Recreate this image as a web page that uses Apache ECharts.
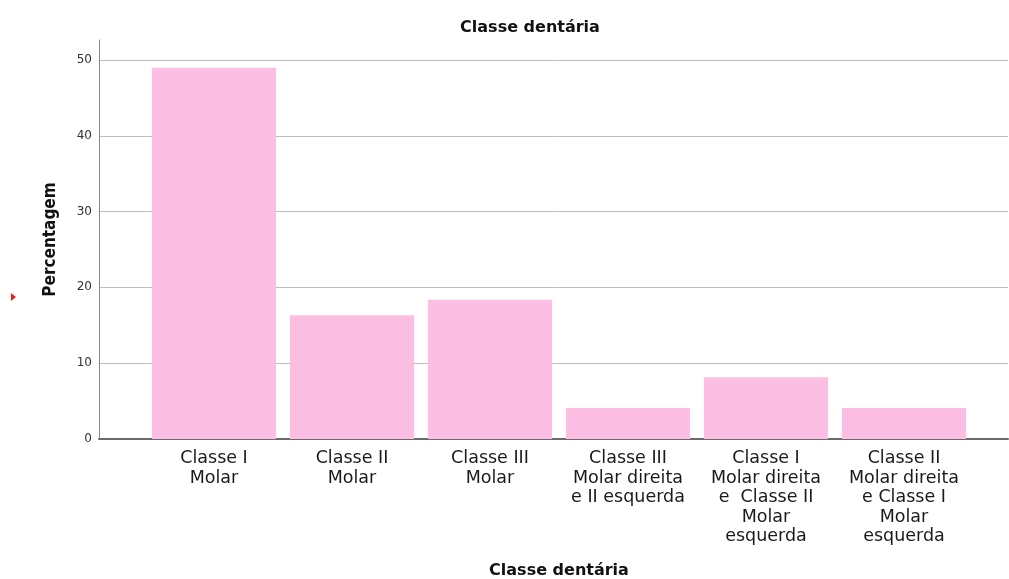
<!DOCTYPE html>
<html>
<head>
<meta charset="utf-8">
<script src="https://cdn.jsdelivr.net/npm/echarts@6/dist/echarts.min.js"></script>
<style>
  html, body { margin: 0; padding: 0; background: #fff; }
  #chart { width: 1009px; height: 579px; }
</style>
</head>
<body>
<div id="chart"></div>
<script>
const categories = [
  'Classe I\nMolar',
  'Classe II\nMolar',
  'Classe III\nMolar',
  'Classe III\nMolar direita\ne II esquerda',
  'Classe I\nMolar direita\ne  Classe II\nMolar\nesquerda',
  'Classe II\nMolar direita\ne Classe I\nMolar\nesquerda'
]
const percentages = [48.98, 16.33, 18.37, 4.08, 8.16, 4.08]
const yTicks = [0, 10, 20, 30, 40, 50]

const cond = '"DejaVu Sans Condensed", "DejaVu Sans", sans-serif'
const sans = '"DejaVu Sans", sans-serif'

const chart = echarts.init(document.getElementById('chart'))
chart.setOption({
  animation: false,
  title: {
    text: 'Classe dentária',
    left: 525,
    textAlign: 'center',
    top: 15,
    textStyle: { fontFamily: sans, fontSize: 16, fontWeight: 'bold', color: '#111' }
  },
  grid: [
    // axis frame (y line reaches above the top tick)
    { left: 99, right: 1, top: 40, bottom: 140, outerBoundsMode: 'none' },
    // split lines
    { left: 99, right: 1, top: 60, bottom: 140, outerBoundsMode: 'none' },
    // bars
    { left: 145, right: 36, top: 60, bottom: 140, outerBoundsMode: 'none' }
  ],
  xAxis: [
    {
      gridIndex: 0, type: 'value', min: 0, max: 1,
      axisLine: { show: true, lineStyle: { color: '#6a6a6a', width: 2 } },
      axisTick: { show: false }, axisLabel: { show: false }, splitLine: { show: false }
    },
    {
      gridIndex: 1, type: 'value', min: 0, max: 1, show: false
    },
    {
      gridIndex: 2, type: 'category', data: categories,
      axisLine: { show: false }, axisTick: { show: false },
      axisLabel: {
        interval: 0, margin: 10, color: '#1a1a1a',
        fontFamily: sans, fontSize: 17.5, lineHeight: 19.5
      },
      name: 'Classe dentária', nameLocation: 'middle', nameGap: 124,
      nameTextStyle: { fontFamily: sans, fontSize: 16, fontWeight: 'bold', color: '#111' }
    }
  ],
  yAxis: [
    {
      gridIndex: 0, type: 'value', min: 0, max: 52.6, interval: 10,
      axisLine: { show: true, lineStyle: { color: '#888', width: 1 } },
      axisTick: { show: false }, splitLine: { show: false },
      axisLabel: {
        showMaxLabel: false, margin: 7, color: '#333',
        fontFamily: sans, fontSize: 12,
        formatter: v => yTicks.includes(v) ? String(v) : ''
      },
      name: 'Percentagem', nameLocation: 'middle', nameGap: 40,
      nameTextStyle: { fontFamily: cond, fontSize: 17, fontWeight: 'bold', color: '#111' }
    },
    {
      gridIndex: 1, type: 'value', min: 0, max: 50, interval: 10,
      axisLine: { show: false }, axisTick: { show: false }, axisLabel: { show: false },
      splitLine: { show: true, lineStyle: { color: '#bdbdbd', width: 1 } }
    },
    {
      gridIndex: 2, type: 'value', min: 0, max: 50, show: false
    }
  ],
  series: [{
    type: 'bar',
    xAxisIndex: 2,
    yAxisIndex: 2,
    data: percentages,
    barCategoryGap: '10%',
    itemStyle: { color: '#fcbee2' }
  }],
  graphic: [{
    type: 'polygon',
    shape: { points: [[11, 293], [16, 297], [11, 301]] },
    style: { fill: '#e8231f' }
  }]
})
</script>
</body>
</html>
